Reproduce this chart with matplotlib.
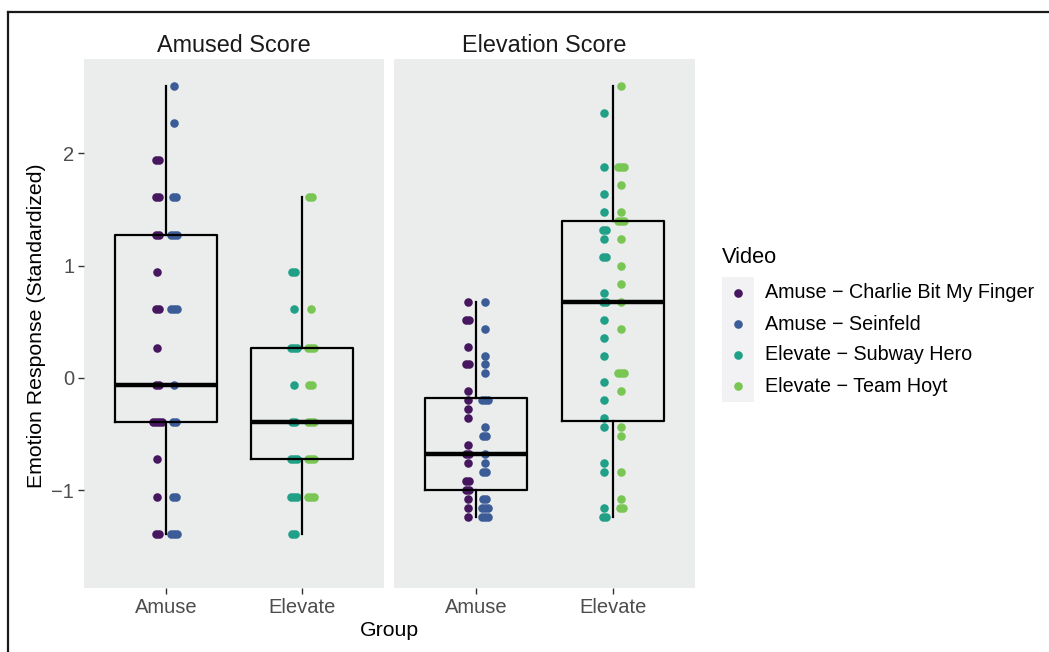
import matplotlib.pyplot as plt
import numpy as np
from matplotlib.lines import Line2D
from matplotlib.patches import Rectangle

plt.rcParams["font.family"] = ["Liberation Sans", "DejaVu Sans"]

# facets, groups and videos
panels = ["Amused Score", "Elevation Score"]
groups = ["Amuse", "Elevate"]
videos = ["Amuse \u2212 Charlie Bit My Finger", "Amuse \u2212 Seinfeld",
          "Elevate \u2212 Subway Hero", "Elevate \u2212 Team Hoyt"]
colors = ["#46175E", "#3B5C96", "#21A088", "#7AC655"]

# Amused Score panel (repeats = overlapping points)
amused_charlie = [1.94, 1.94, 1.61, 1.61, 1.27, 1.27, 0.94, 0.61, 0.61, 0.27,
                  -0.06, -0.06, -0.39, -0.39, -0.39, -0.39, -0.72, -1.06, -1.39, -1.39]
amused_seinfeld = [2.60, 2.27, 1.61, 1.61, 1.27, 1.27, 1.27, 0.61, 0.61, 0.61,
                   -0.06, -0.39, -0.39, -1.06, -1.06, -1.39, -1.39, -1.39]
amused_subway = [0.94, 0.94, 0.61, 0.27, 0.27, 0.27, -0.06, -0.39, -0.39,
                 -0.72, -0.72, -0.72, -1.06, -1.06, -1.06, -1.39, -1.39]
amused_hoyt = [1.61, 1.61, 0.61, 0.27, 0.27, 0.27, -0.06, -0.06, -0.39, -0.39, -0.39,
               -0.72, -0.72, -0.72, -1.06, -1.06, -1.06]

# Elevation Score panel
elev_charlie = [0.68, 0.52, 0.52, 0.28, 0.12, 0.12, -0.12, -0.20, -0.28, -0.36,
                -0.60, -0.68, -0.68, -0.76, -0.92, -0.92, -1.00, -1.00, -1.08, -1.16, -1.24]
elev_seinfeld = [0.68, 0.44, 0.20, 0.12, 0.04, -0.20, -0.20, -0.20, -0.44, -0.52, -0.52,
                 -0.68, -0.76, -0.84, -0.84, -1.08, -1.08, -1.16, -1.16, -1.16,
                 -1.24, -1.24, -1.24]
elev_subway = [2.36, 1.88, 1.64, 1.48, 1.32, 1.32, 1.24, 1.08, 1.08, 0.76, 0.68, 0.68,
               0.52, 0.36, 0.20, -0.04, -0.20, -0.36, -0.44, -0.76, -0.84, -1.16,
               -1.24, -1.24]
elev_hoyt = [2.60, 1.88, 1.88, 1.88, 1.72, 1.48, 1.40, 1.40, 1.40, 1.24, 1.00, 0.84,
             0.68, 0.44, 0.04, 0.04, 0.04, -0.12, -0.44, -0.52, -0.84, -1.08, -1.16, -1.16]

# box statistics: whisker low, q1, median, q3, whisker high
amused_box = [[-1.39, -0.39, -0.06, 1.27, 2.60], [-1.39, -0.72, -0.39, 0.27, 1.61]]
elev_box = [[-1.24, -1.00, -0.68, -0.18, 0.68], [-1.24, -0.38, 0.68, 1.40, 2.60]]

panel_points = [
    [[amused_charlie, amused_seinfeld], [amused_subway, amused_hoyt]],
    [[elev_charlie, elev_seinfeld], [elev_subway, elev_hoyt]],
]
panel_boxes = [amused_box, elev_box]

fig = plt.figure(figsize=(10.49, 6.52), dpi=100)
W, H = 1049, 652

ax_list = [fig.add_axes([84 / W, 1 - 588 / H, 300 / W, 529 / H]),
           fig.add_axes([394 / W, 1 - 588 / H, 301 / W, 529 / H])]

for p, ax in enumerate(ax_list):
    ax.set_facecolor("#EBEDED")
    for s in ax.spines.values():
        s.set_visible(False)

    stats = []
    for b in panel_boxes[p]:
        stats.append({"whislo": b[0], "q1": b[1], "med": b[2], "q3": b[3], "whishi": b[4]})
    ax.bxp(stats, positions=[1, 2], widths=0.75, showfliers=False, showcaps=False,
           boxprops=dict(color="black", linewidth=1.6),
           whiskerprops=dict(color="black", linewidth=1.6),
           medianprops=dict(color="black", linewidth=3.2, solid_capstyle="butt"),
           zorder=3)

    for g in range(2):
        for v in range(2):
            vals = np.array(panel_points[p][g][v])
            cidx = g * 2 + v
            base = (g + 1) + (-0.062 if v == 0 else 0.062)
            xs = np.zeros(len(vals))
            for u in np.unique(vals):
                idx = np.where(vals == u)[0]
                n = len(idx)
                xs[idx] = base + (np.arange(n) - (n - 1) / 2) * 0.022
            ax.scatter(xs, vals, s=38, color=colors[cidx], linewidths=0, zorder=2)

    ax.set_xlim(0.4, 2.6)
    ax.set_ylim(-1.87, 2.84)
    ax.set_xticks([1, 2])
    ax.set_xticklabels(groups, fontsize=14.5, color="#4D4D4D")
    ax.tick_params(axis="x", length=4, width=1, color="#333333", pad=3)
    if p == 0:
        ax.set_yticks([-1, 0, 1, 2])
        ax.set_yticklabels(["\u22121", "0", "1", "2"], fontsize=14.5, color="#4D4D4D")
        ax.tick_params(axis="y", length=4, width=1, color="#333333", pad=3)
    else:
        ax.set_yticks([])
    ax.set_title(panels[p], fontsize=16.8, color="#1A1A1A", pad=5)

fig.text(389 / W, 1 - 630 / H, "Group", fontsize=15.3, ha="center", va="center")
fig.text(37 / W, 1 - 326 / H, "Emotion Response (Standardized)", fontsize=15.3,
         rotation=90, ha="center", va="center")

# legend
fig.text(722 / W, 1 - 257 / H, "Video", fontsize=15.7, ha="left", va="center")
fig.add_artist(Rectangle((722 / W, 1 - 402 / H), 32 / W, 125 / H,
                         transform=fig.transFigure, facecolor="#F2F2F4", edgecolor="none"))
for i, name in enumerate(videos):
    yy = 1 - (293 + 31 * i) / H
    fig.add_artist(Line2D([738 / W], [yy], marker="o", markersize=5.2, color=colors[i],
                          linestyle="none", transform=fig.transFigure))
    fig.text(765 / W, yy, name, fontsize=14.2, ha="left", va="center")

# outer frame (top and left edge)
fig.add_artist(Line2D([8 / W, 1.0], [1 - 12 / H, 1 - 12 / H], color="#1A1A1A",
                      linewidth=1.6, transform=fig.transFigure))
fig.add_artist(Line2D([8 / W, 8 / W], [0, 1 - 12 / H], color="#1A1A1A",
                      linewidth=1.6, transform=fig.transFigure))

fig.savefig("out.png", dpi=100)
plt.close(fig)
